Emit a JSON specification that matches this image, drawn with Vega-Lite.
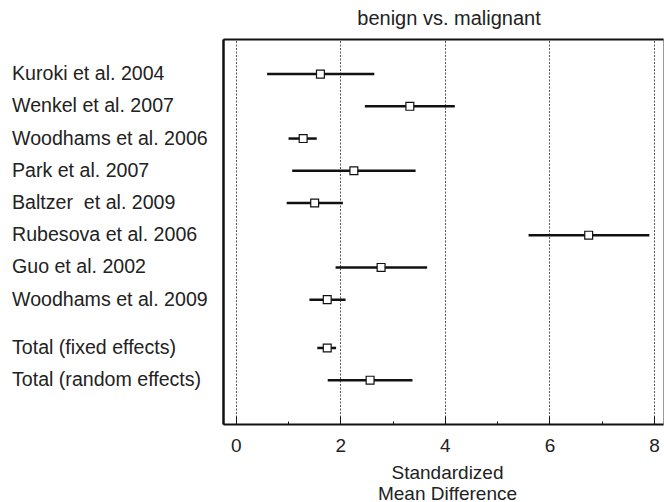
{
  "$schema": "https://vega.github.io/schema/vega-lite/v6.json",
  "width": 440,
  "height": 385,
  "autosize": {"type": "none"},
  "padding": {"left": 223, "top": 39, "right": 1, "bottom": 78},
  "background": "white",
  "config": {
    "font": "Liberation Sans",
    "view": {"stroke": "#999999", "strokeWidth": 1}
  },
  "title": {
    "text": "benign vs. malignant",
    "fontSize": 20,
    "fontWeight": "normal",
    "color": "#222222",
    "anchor": "middle",
    "dx": 6,
    "offset": 10
  },
  "data": {
    "values": [
      {"study": "Kuroki et al. 2004", "row": 0, "est": 1.62, "lo": 0.6, "hi": 2.65},
      {"study": "Wenkel et al. 2007", "row": 1, "est": 3.33, "lo": 2.47, "hi": 4.19},
      {"study": "Woodhams et al. 2006", "row": 2, "est": 1.29, "lo": 1.01, "hi": 1.55},
      {"study": "Park et al. 2007", "row": 3, "est": 2.26, "lo": 1.08, "hi": 3.44},
      {"study": "Baltzer\u00a0 et al. 2009", "row": 4, "est": 1.51, "lo": 0.975, "hi": 2.05},
      {"study": "Rubesova et al. 2006", "row": 5, "est": 6.75, "lo": 5.6, "hi": 7.91},
      {"study": "Guo et al. 2002", "row": 6, "est": 2.78, "lo": 1.91, "hi": 3.66},
      {"study": "Woodhams et al. 2009", "row": 7, "est": 1.75, "lo": 1.41, "hi": 2.1},
      {"study": "Total (fixed effects)", "row": 8.5, "est": 1.75, "lo": 1.56, "hi": 1.92},
      {"study": "Total (random effects)", "row": 9.5, "est": 2.57, "lo": 1.76, "hi": 3.38}
    ]
  },
  "resolve": {"axis": {"x": "independent", "y": "independent"}},
  "layer": [
    {
      "mark": {"type": "rule", "color": "#111111", "strokeWidth": 2.5},
      "encoding": {
        "x": {
          "field": "lo", "type": "quantitative",
          "scale": {"domain": [-0.243, 8.171], "nice": false, "zero": false},
          "axis": {
            "orient": "bottom", "values": [1, 3, 5, 7], "labels": false,
            "tickSize": -3, "tickColor": "#111111", "tickWidth": 1,
            "domain": false, "grid": false, "title": null
          }
        },
        "x2": {"field": "hi"},
        "y": {
          "field": "row", "type": "quantitative",
          "scale": {"domain": [-1.09, 10.86], "reverse": true, "nice": false, "zero": false},
          "axis": {
            "orient": "left", "labels": false, "ticks": false, "grid": false,
            "domain": true, "domainColor": "#111111", "domainWidth": 2.5, "title": null
          }
        }
      }
    },
    {
      "mark": {"type": "square", "size": 62, "filled": true, "fill": "white", "stroke": "#111111", "strokeWidth": 1.2, "opacity": 1},
      "encoding": {
        "x": {
          "field": "est", "type": "quantitative",
          "axis": {
            "orient": "bottom", "values": [0, 2, 4, 6, 8],
            "grid": true, "gridDash": [2, 1.5], "gridColor": "#555555", "gridWidth": 1,
            "tickSize": -8, "tickColor": "#111111", "tickWidth": 1,
            "domain": true, "domainColor": "#111111", "domainWidth": 2,
            "labelFontSize": 19, "labelColor": "#222222", "labelPadding": 20,
            "title": ["Standardized", "Mean Difference"],
            "titleFontSize": 19, "titleFontWeight": "normal", "titleColor": "#222222",
            "titleLineHeight": 21, "titlePadding": 8, "titleX": 224
          }
        },
        "y": {
          "field": "row", "type": "quantitative",
          "axis": {
            "orient": "right", "labels": false, "ticks": false, "grid": false,
            "domain": false, "title": null
          }
        }
      }
    },
    {
      "mark": {"type": "text", "align": "left", "baseline": "middle", "fontSize": 19.6, "color": "#222222"},
      "encoding": {
        "x": {
          "datum": -4.278, "type": "quantitative",
          "axis": {
            "orient": "top", "labels": false, "ticks": false, "grid": false,
            "domain": true, "domainColor": "#111111", "domainWidth": 2, "title": null
          }
        },
        "y": {"field": "row", "type": "quantitative", "axis": null},
        "text": {"field": "study"}
      }
    }
  ]
}
